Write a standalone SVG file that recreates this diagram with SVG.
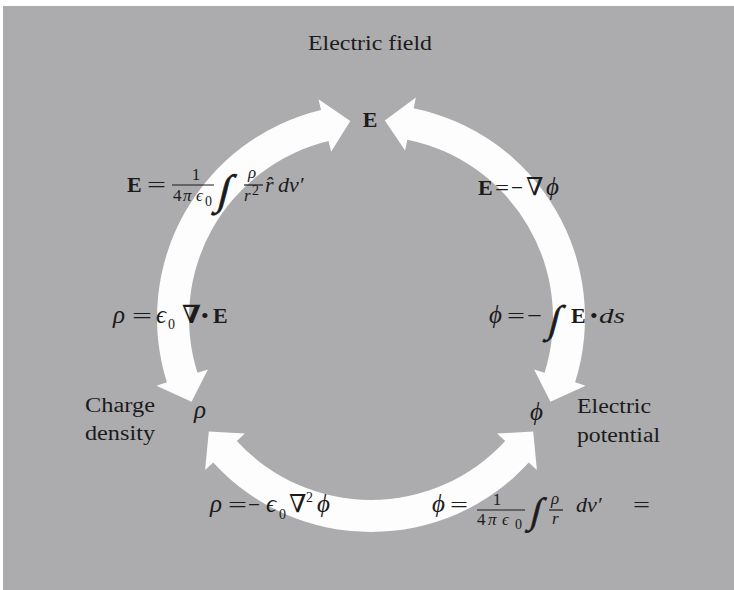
<svg xmlns="http://www.w3.org/2000/svg" width="734" height="590" viewBox="0 0 734 590">
<style>
.t{font-family:"Liberation Serif","DejaVu Serif",serif;fill:#1b1b1b}
.lbl{font-size:20px}
.m{font-size:22px}
.g{font-size:25px;font-style:italic}
.s{font-size:17px}
.ss{font-size:14px}
.i{font-style:italic}
.b{font-weight:bold}
.big{font-size:25px}
.int{stroke:#1b1b1b;stroke-width:0.7}
.bar{stroke:#1b1b1b;stroke-width:1.2}
.arrow{fill:#fdfdfd}
</style>
<rect x="0" y="0" width="734" height="590" fill="#ffffff"/>
<rect x="3" y="6" width="731" height="584" fill="#acacae"/>

<g id="connectors">
  <path id="arrow-left" class="arrow" d="M 191.55 401.68 L 156.42 385.66 L 166.91 382.35 A 214 214 0 0 1 321.05 109.91 L 318.48 99.21 L 350.31 121.09 L 331.09 151.72 L 328.52 141.02 A 182 182 0 0 0 197.43 372.73 L 207.92 369.42 Z"/>
  <path id="arrow-right" class="arrow" d="M 384.81 120.48 L 415.86 97.52 L 413.67 108.30 A 214 214 0 0 1 575.09 382.35 L 585.58 385.66 L 550.45 401.68 L 534.08 369.42 L 544.57 372.73 A 182 182 0 0 0 407.29 139.66 L 405.10 150.44 Z"/>
  <path id="arrow-bottom" class="arrow" d="M 533.2 431.57 L 536.89 470.01 L 528.78 462.58 A 214 214 0 0 1 213.22 462.58 L 205.11 470.01 L 208.8 431.57 L 244.92 433.53 L 236.81 440.96 A 182 182 0 0 0 505.19 440.96 L 497.08 433.53 Z"/>
</g>

<g id="node-E">
  <text class="t lbl" x="308" y="50" textLength="124" lengthAdjust="spacingAndGlyphs">Electric field</text>
  <text class="t m b" x="370" y="127" text-anchor="middle">E</text>
</g>
<g id="node-rho">
  <text class="t lbl" x="85" y="412" textLength="70" lengthAdjust="spacingAndGlyphs">Charge</text>
  <text class="t lbl" x="85" y="440" textLength="70" lengthAdjust="spacingAndGlyphs">density</text>
  <text class="t g" x="194" y="418">ρ</text>
</g>
<g id="node-phi">
  <text class="t lbl" x="577" y="413" textLength="74" lengthAdjust="spacingAndGlyphs">Electric</text>
  <text class="t lbl" x="577" y="442" textLength="83" lengthAdjust="spacingAndGlyphs">potential</text>
  <text class="t g" x="530" y="420">ϕ</text>
</g>

<g id="labels">
  <g id="eq-coulomb">
    <text class="t m b" x="127" y="192">E</text>
    <text class="t m" x="147" y="192" textLength="19" lengthAdjust="spacingAndGlyphs">=</text>
    <text class="t s" x="196" y="180" text-anchor="middle">1</text>
    <line class="bar" x1="172" y1="185" x2="214" y2="185"/>
    <text class="t s" x="173" y="201">4</text>
    <text class="t s i" x="183" y="201">π</text>
    <text class="t s i" x="196" y="201">ϵ</text>
    <text class="t ss" x="205" y="206">0</text>
    <text class="t int" transform="translate(216,204) skewX(-14)" style="font-size:42px">∫</text>
    <text class="t s i" x="248" y="178">ρ</text>
    <line class="bar" x1="244" y1="185" x2="263" y2="185"/>
    <text class="t s i" x="244" y="201">r</text>
    <text class="t ss" x="252" y="195">2</text>
    <text class="t m i" x="265" y="192">r̂</text>
    <text class="t m i" x="278" y="192">dv′</text>
  </g>
  <g id="eq-gradient">
    <text class="t m b" x="478" y="195">E</text>
    <text class="t m" x="495" y="195" textLength="14" lengthAdjust="spacingAndGlyphs">=</text>
    <text class="t m" x="511" y="195" textLength="12" lengthAdjust="spacingAndGlyphs">−</text>
    <text class="t big" x="526" y="195">∇</text>
    <text class="t g" x="546" y="195">ϕ</text>
  </g>
  <g id="eq-gauss">
    <text class="t g" x="113" y="323">ρ</text>
    <text class="t m" x="132" y="323" textLength="20" lengthAdjust="spacingAndGlyphs">=</text>
    <text class="t big i" x="156" y="323">ϵ</text>
    <text class="t ss" x="168" y="329">0</text>
    <text class="t big b" x="182" y="323">∇</text>
    <text class="t m" x="201" y="323">•</text>
    <text class="t m b" x="213" y="323">E</text>
  </g>
  <g id="eq-lineint">
    <text class="t g" x="489" y="323">ϕ</text>
    <text class="t m" x="507" y="323" textLength="18" lengthAdjust="spacingAndGlyphs">=</text>
    <text class="t m" x="527" y="323" textLength="15" lengthAdjust="spacingAndGlyphs">−</text>
    <text class="t int" transform="translate(547,332) skewX(-14)" style="font-size:38px">∫</text>
    <text class="t m b" x="571" y="323">E</text>
    <text class="t m" x="590" y="323">•</text>
    <text class="t m i" x="599" y="323" textLength="26" lengthAdjust="spacingAndGlyphs">ds</text>
  </g>
  <g id="eq-poisson">
    <text class="t g" x="210" y="512">ρ</text>
    <text class="t m" x="228" y="512" textLength="19" lengthAdjust="spacingAndGlyphs">=</text>
    <text class="t m" x="248" y="512" textLength="12" lengthAdjust="spacingAndGlyphs">−</text>
    <text class="t big i" x="266" y="512">ϵ</text>
    <text class="t ss" x="279" y="519">0</text>
    <text class="t big" x="289" y="512">∇</text>
    <text class="t ss" x="306" y="502">2</text>
    <text class="t g" x="317" y="512">ϕ</text>
  </g>
  <g id="eq-potential">
    <text class="t g" x="432" y="512">ϕ</text>
    <text class="t m" x="450" y="512" textLength="18" lengthAdjust="spacingAndGlyphs">=</text>
    <text class="t s" x="497" y="505" text-anchor="middle">1</text>
    <line class="bar" x1="477" y1="510" x2="525" y2="510"/>
    <text class="t s" x="477" y="525">4</text>
    <text class="t s i" x="488" y="525">π</text>
    <text class="t s i" x="502" y="525">ϵ</text>
    <text class="t ss" x="515" y="529">0</text>
    <text class="t int" transform="translate(529,523) skewX(-14)" style="font-size:36px">∫</text>
    <text class="t s i" x="551" y="504">ρ</text>
    <line class="bar" x1="549" y1="510" x2="563" y2="510"/>
    <text class="t s i" x="552" y="524">r</text>
    <text class="t m i" x="576" y="512">dv′</text>
    <text class="t m" x="633" y="512" textLength="17" lengthAdjust="spacingAndGlyphs">=</text>
  </g>
</g>
</svg>
